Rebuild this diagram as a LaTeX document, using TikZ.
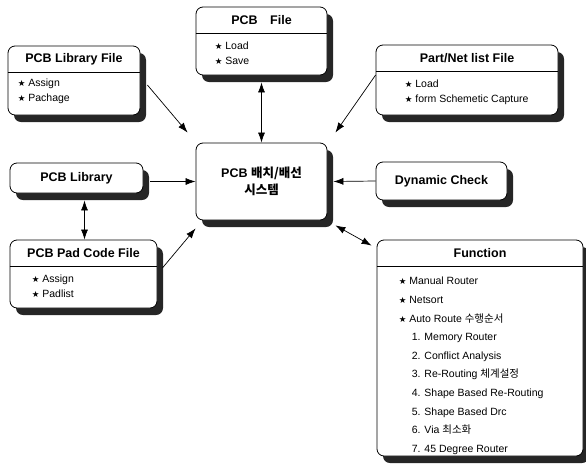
\documentclass[tikz,border=0pt]{standalone}
\usepackage{fontspec}
\setmainfont{Liberation Sans}
\newfontfamily\kofont{Noto Sans CJK KR}
\newfontfamily\symfont{DejaVu Sans}
\usetikzlibrary{arrows.meta,shadows,positioning}
\newcommand{\stari}[0]{{\symfont\fontsize{8.5}{8.5}\selectfont ★}\ }
\newcommand{\headbox}[7]{%
  \node[box, minimum width=#3, minimum height=#4] (#1) at (#2) {};
  \node[head] (#1-head) at (#1.north) {#5};
  \draw (#1-head.south -| #1.west) -- (#1-head.south -| #1.east);
  \node[body, #6] (#1-body) at (#1-head.south -| #1.west) {#7};
}

\begin{document}
\begin{tikzpicture}[x=1pt, y=-1pt]
  \tikzset{box/.style={draw, fill=white, line width=0.8pt, rounded corners=7pt,
                       drop shadow={shadow xshift=6pt, shadow yshift=-7pt, fill=black!85, opacity=1},
                       font=\bfseries\fontsize{12.5}{17}\selectfont, align=center},
           head/.style={anchor=north, minimum height=26pt, inner sep=0pt,
                        font=\bfseries\fontsize{12.5}{14}\selectfont},
           body/.style={anchor=north west, align=left, inner sep=0pt,
                        font=\fontsize{10.5}{14.5}\selectfont},
           arr/.style={line width=0.7pt, -{Latex[length=10pt,width=7pt]}},
           dblarr/.style={line width=0.7pt, {Latex[length=10pt,width=7pt]}-{Latex[length=10pt,width=7pt]}}}
  \useasboundingbox (0,0) rectangle (586,469);

  % boxes
  \headbox{libfile}{74,80.5}{132pt}{69pt}{PCB Library File}{xshift=10pt, yshift=-7pt}
    {\stari Assign\\\stari Pachage}
  \headbox{pcbfile}{261.5,41}{131pt}{68pt}{PCB\quad File}{xshift=19pt, yshift=-9pt}
    {\stari Load\\\stari Save}
  \headbox{netfile}{467,80}{182pt}{70pt}{Part/Net list File}{xshift=29pt, yshift=-9pt}
    {\stari Load\\\stari form Schemetic Capture}
  \headbox{padfile}{83.5,274}{147pt}{68pt}{PCB Pad Code File}{xshift=22pt, yshift=-9pt}
    {\stari Assign\\\stari Padlist}
  \headbox{function}{480,348}{206pt}{216pt}{Function}{xshift=22pt, yshift=-11pt, font=\fontsize{10.5}{18.6}\selectfont}
    {\stari Manual Router\\
     \stari Netsort\\
     \stari Auto Route {\kofont 수행순서}\\
     \hspace*{13pt}1. Memory Router\\
     \hspace*{13pt}2. Conflict Analysis\\
     \hspace*{13pt}3. Re-Routing {\kofont 체계설정}\\
     \hspace*{13pt}4. Shape Based Re-Routing\\
     \hspace*{13pt}5. Shape Based Drc\\
     \hspace*{13pt}6. Via {\kofont 최소화}\\
     \hspace*{13pt}7. 45 Degree Router}

  \node[box, minimum width=131pt, minimum height=77pt] (system) at (261.5,181.5)
    {PCB {\kofont 배치/배선}\\{\kofont 시스템}};
  \node[box, minimum width=133pt, minimum height=30pt] (library) at (76.5,178) {PCB Library};
  \node[box, minimum width=131pt, minimum height=38pt] (dyncheck) at (441.5,181) {Dynamic Check};

  % connectors
  \coordinate (libout) at ([xshift=7pt]library.east);
  \draw[arr] ([xshift=7pt,yshift=-4.5pt]libfile.east) -- ([xshift=-8pt,yshift=10pt]system.north west);
  \draw[dblarr] ([yshift=-7pt]pcbfile.south) -- (system.north);
  \draw[arr] ([yshift=5pt]netfile.west) -- ([xshift=8pt,yshift=10pt]system.north east);
  \draw[arr] (libout |- system.west) -- (system.west);
  \draw[dblarr] ([xshift=8pt,yshift=-7pt]library.south) -- ([xshift=8pt]library.south |- padfile.north);
  \draw[arr] ([xshift=5pt,yshift=6pt]padfile.east) -- ([yshift=-8pt]system.south west);
  \draw[arr] (dyncheck.west) -- ([xshift=6pt]system.east);
  \draw[dblarr] ([xshift=8pt,yshift=-5pt]system.south east) -- ([xshift=-5pt,yshift=-6pt]function.north west);
\end{tikzpicture}
\end{document}
